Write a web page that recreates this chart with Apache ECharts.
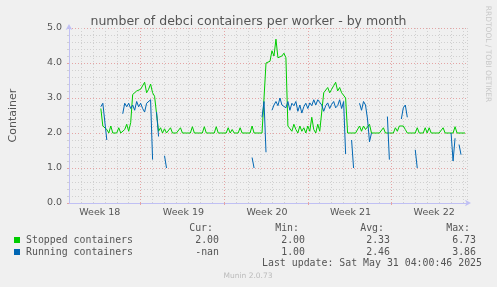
<!DOCTYPE html>
<html lang="en">
<head>
<meta charset="UTF-8">
<title>debci containers per worker - by month</title>
<script src="https://cdn.jsdelivr.net/npm/echarts@6/dist/echarts.min.js"></script>
<style>
  html, body { margin: 0; padding: 0; background: #f0f0f0; }
  #main { width: 497px; height: 287px; }
</style>
</head>
<body>
<div id="main"></div>
<script>
// one sample every 4 hours, day 0 = left edge of the graph
var STEP = 1 / 6;

var stopped = [
  null, null, null, null, null, null, null, null, null, null,
  null, null, null, null, null, null, 2.7, 2.2, 2.15, 2.1,
  2.0, 2.2, 2.0, 2.05, 2.0, 2.15, 2.0, 2.0, 2.1, 2.25,
  2.05, 2.3, 3.1, 3.15, 3.2, 3.15, 3.25, 3.3, 3.45, 3.15,
  3.25, 3.4, 3.15, 3.05, 3.05, 2.05, 2.15, 2.0, 2.12, 2.0,
  2.0, 2.15, 2.0, 2.0, 2.0, 2.0, 2.15, 2.0, 2.0, 2.0,
  2.0, 2.0, 2.18, 2.0, 2.0, 2.0, 2.0, 2.0, 2.18, 2.0,
  2.0, 2.0, 2.0, 2.0, 2.18, 2.0, 2.0, 2.0, 2.0, 2.0,
  2.15, 2.0, 2.1, 2.0, 2.0, 2.0, 2.15, 2.0, 2.0, 2.0,
  2.0, 2.0, 2.2, 2.0, 2.0, 2.0, 2.0, 2.0, 3.0, 4.0,
  4.0, 4.05, 4.35, 4.2, 4.68, 4.15, 4.1, 4.2, 4.28, 4.15,
  2.2, 2.15, 2.05, 2.25, 2.1, 2.0, 2.2, 2.05, 2.15, 2.0,
  2.2, 2.05, 2.45, 2.1, 2.0, 2.25, 2.05, 2.1, 3.15, 3.2,
  3.3, 3.15, 3.25, 3.35, 3.45, 3.2, 3.3, 3.15, 3.1, 3.0,
  2.0, 2.0, 2.0, 2.0, 2.0, 2.0, 2.2, 2.05, 2.2, 2.1,
  2.15, 2.25, 2.0, 2.0, 2.0, 2.0, 2.0, 2.0, 2.15, 2.0,
  2.0, 2.0, 2.0, 2.0, 2.15, 2.05, 2.2, 2.25, 2.2, 2.1,
  2.0, 2.0, 2.0, 2.0, 2.0, 2.15, 2.0, 2.0, 2.0, 2.15,
  2.0, 2.15, 2.0, 2.0, 2.0, 2.0, 2.0, 2.0, 2.15, 2.0,
  2.0, 2.0, 2.0, 2.0, 2.18, 2.0, 2.0, 2.0, 2.0, 2.0
];

var running = [
  null, null, null, null, null, null, null, null, null, null,
  null, null, null, null, null, null, 2.75, 2.85, 2.9, 1.8,
  null, null, null, null, null, null, null, 2.55, 2.85, 2.75,
  2.85, 2.7, 2.8, 2.65, 2.9, 2.75, 2.85, 2.7, 2.6, 2.85,
  2.9, 2.95, 1.24, null, 2.6, 1.9, null, null, 1.35, 1.0,
  null, null, null, null, null, null, null, null, null, null,
  null, null, null, null, null, null, null, null, null, null,
  null, null, null, null, null, null, null, null, null, null,
  null, null, null, null, null, null, null, null, null, null,
  null, null, 1.3, 1.0, null, null, null, 2.45, 2.9, 1.45,
  null, null, 2.65, 2.8, 2.9, 2.78, 3.0, 2.8, 2.85, 2.72,
  2.9, 2.65, 2.85, 2.78, 2.9, 2.62, 2.8, 2.57, 2.75, 2.85,
  2.7, 2.86, 2.78, 2.95, 2.8, 2.95, 3.0, 2.8, 2.62, 2.78,
  2.86, 2.7, 2.82, 2.9, 2.72, 2.78, 2.95, 2.7, 2.9, 1.4,
  null, null, 1.8, 1.0, null, null, 2.85, 2.65, 2.9, 2.8,
  2.4, 1.75, 2.0, null, null, null, null, null, null, null,
  2.47, 1.24, null, null, null, null, null, 2.4, 2.72, 2.8,
  2.45, null, null, null, 1.52, 1.0, null, null, null, null,
  null, null, null, null, null, null, null, null, null, null,
  null, null, 2.0, 1.2, 1.85, null, 1.67, 1.38, null, null
];

var weekLabels = ['Week 18', 'Week 19', 'Week 20', 'Week 21', 'Week 22'];
var weekLabelAt = [2.583, 9.583, 16.583, 23.583, 30.583];
var weekStarts = [6, 13, 20, 27];

var seriesNames = ['Stopped containers', 'Running containers'];
var seriesColors = ['#00cc00', '#0066b3'];
var statHeads = ['Cur:', 'Min:', 'Avg:', 'Max:'];
var curVals = ['2.00', '-nan'];
var minVals = ['2.00', '1.00'];
var avgVals = ['2.33', '2.46'];
var maxVals = ['6.73', '3.86'];
var lastUpdate = 'Last update: Sat May 31 04:00:46 2025';

var MONO = '9.9px "DejaVu Sans Mono"';
var TXT = '#555';

function pairs(arr) {
  return arr.map(function (v, i) { return [i * STEP, v]; });
}

function txt(x, y, s, align, font, color, extra) {
  var el = {
    type: 'text', x: x, y: y, silent: true,
    style: {
      text: s, font: font || MONO, fill: color || TXT,
      align: align || 'left', verticalAlign: 'middle',
      textAlign: align || 'left', textVerticalAlign: 'middle'
    }
  };
  if (extra) for (var k in extra) el[k] = extra[k];
  return el;
}

// legend / stats table under the graph
var headRight = [213, 299, 384, 470];
var graphics = [];
statHeads.forEach(function (h, j) {
  graphics.push(txt(headRight[j], 228, h, 'right'));
});
var cols = [curVals, minVals, avgVals, maxVals];
seriesNames.forEach(function (name, r) {
  var y = 240 + r * 12;
  graphics.push({
    type: 'rect', silent: true,
    shape: { x: 14, y: y - 3, width: 6, height: 6 },
    style: { fill: seriesColors[r] }
  });
  graphics.push(txt(26, y, name, 'left'));
  cols.forEach(function (c, j) {
    graphics.push(txt(headRight[j] + 6, y, c[r], 'right'));
  });
});
graphics.push(txt(482, 263.5, lastUpdate, 'right'));
graphics.push(txt(248, 276, 'Munin 2.0.73', 'center', '7.5px "DejaVu Sans"', '#bbb'));
graphics.push(txt(487.5, 54, 'RRDTOOL / TOBI OETIKER', 'center', '7.5px "DejaVu Sans"', '#c8c8c8',
  { rotation: -Math.PI / 2 }));

var axisBlue = '#c0c0f4';
var gridGray = '#d0d0d0';
var gridRed = '#e4a4a4';

var myChart = echarts.init(document.getElementById('main'));
myChart.setOption({
  animation: false,
  backgroundColor: '#f0f0f0',
  textStyle: { fontFamily: 'DejaVu Sans' },
  title: {
    text: 'number of debci containers per worker - by month',
    left: 'center', top: 10,
    textStyle: { fontSize: 12.5, fontWeight: 'normal', color: TXT, fontFamily: 'DejaVu Sans' }
  },
  grid: { left: 67, right: 30, top: 28, bottom: 84 },
  xAxis: [{
    type: 'value', min: 0, max: 400 / 12, interval: 1,
    axisLine: { show: true, onZero: false, symbol: ['none', 'arrow'], symbolSize: [5, 6],
      symbolOffset: [0, 4], lineStyle: { color: axisBlue } },
    axisTick: { show: false },
    splitLine: { show: true, lineStyle: { color: gridGray, type: [1, 2] } },
    axisLabel: {
      customValues: weekLabelAt, margin: 5, color: TXT, fontSize: 9.5,
      formatter: function (v) {
        var best = 0;
        weekLabelAt.forEach(function (w, k) {
          if (Math.abs(w - v) < Math.abs(weekLabelAt[best] - v)) best = k;
        });
        return weekLabels[best];
      }
    }
  }, {
    type: 'value', min: 0, max: 400 / 12, position: 'bottom',
    axisLine: { show: false },
    axisTick: { show: true, customValues: weekStarts, length: 2, lineStyle: { color: gridRed } },
    axisLabel: { show: false },
    splitLine: { show: true, lineStyle: { color: gridRed, type: [1, 2] } }
  }],
  yAxis: {
    type: 'value', min: 0, max: 5, interval: 1,
    name: 'Container', nameLocation: 'middle', nameRotate: 90, nameGap: 50,
    nameTextStyle: { color: TXT, fontSize: 11 },
    axisLine: { show: true, symbol: ['none', 'arrow'], symbolSize: [5, 6],
      symbolOffset: [0, 4], lineStyle: { color: axisBlue } },
    axisTick: { show: true, length: 2, lineStyle: { color: gridRed } },
    minorTick: { show: true, splitNumber: 5, length: 2, lineStyle: { color: gridGray } },
    minorSplitLine: { show: true, lineStyle: { color: gridGray, type: [1, 2] } },
    splitLine: { show: true, lineStyle: { color: gridRed, type: [1, 2] } },
    axisLabel: { margin: 7, color: TXT, fontSize: 9.5, formatter: function (v) { return v.toFixed(1); } }
  },
  series: [{
    name: seriesNames[0], type: 'line', data: pairs(stopped),
    showSymbol: false, connectNulls: false,
    lineStyle: { width: 1, color: seriesColors[0] }, itemStyle: { color: seriesColors[0] }
  }, {
    name: seriesNames[1], type: 'line', data: pairs(running),
    showSymbol: false, connectNulls: false,
    lineStyle: { width: 1, color: seriesColors[1] }, itemStyle: { color: seriesColors[1] }
  }],
  graphic: graphics
});
</script>
</body>
</html>
